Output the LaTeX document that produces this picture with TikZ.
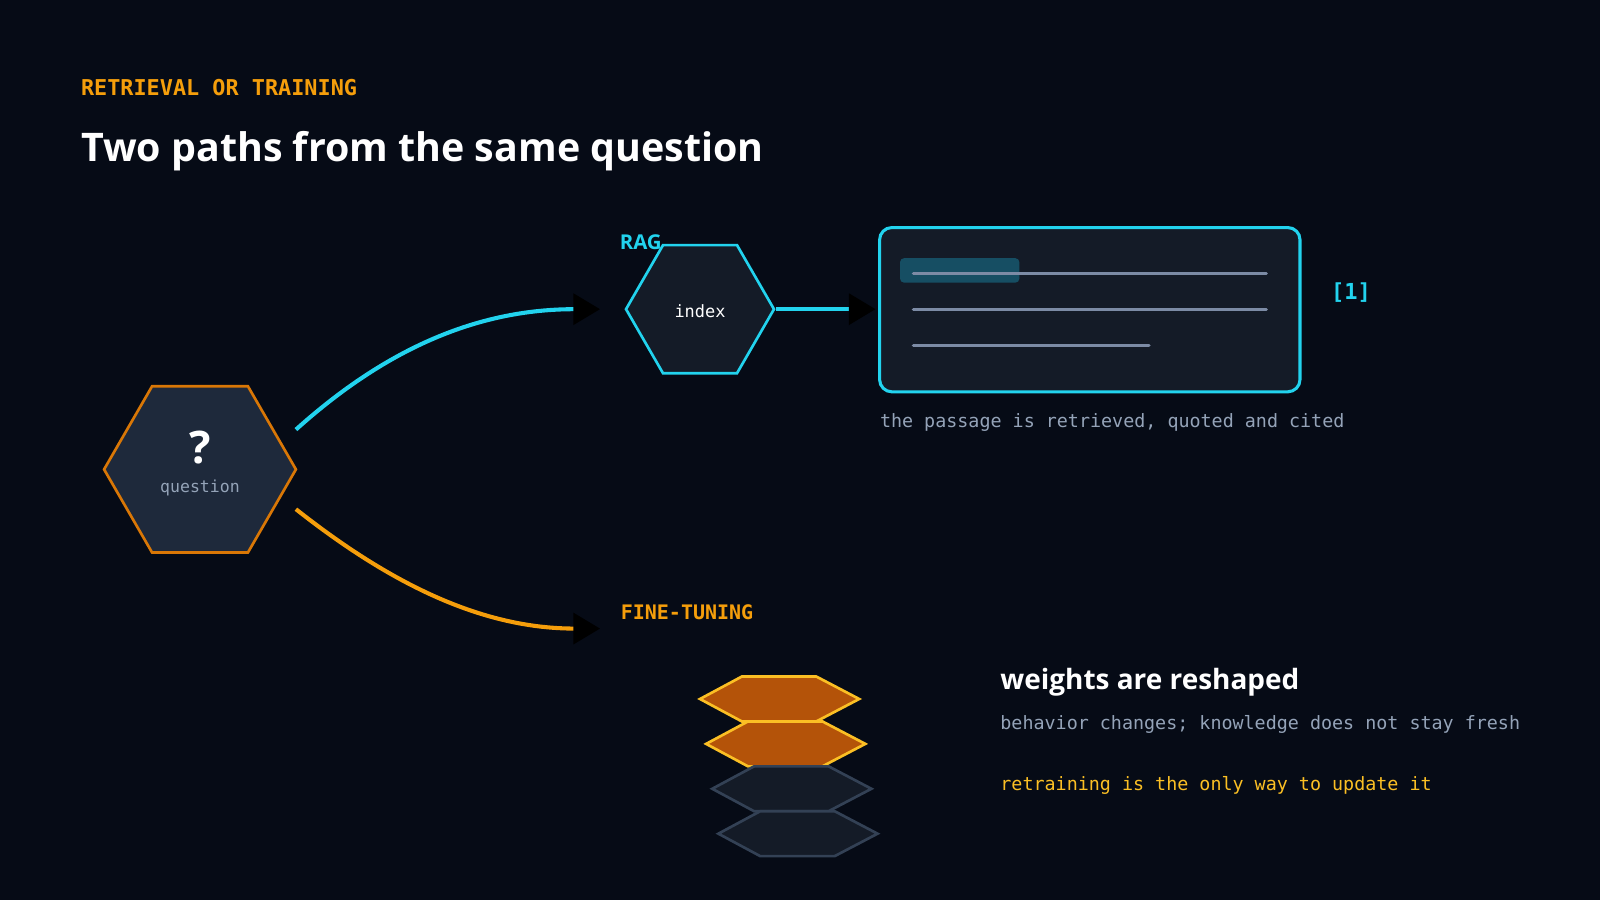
\documentclass[tikz,border=0pt]{standalone}
\usepackage{fontspec}
\setmainfont{Open Sans}
\newfontfamily\monof{DejaVu Sans Mono}
\usetikzlibrary{arrows.meta,shapes.geometric}
\definecolor{bg}{HTML}{060B16}
\definecolor{cyanc}{HTML}{22D3EE}
\definecolor{orangec}{HTML}{F59E0B}
\definecolor{darkor}{HTML}{D97706}
\definecolor{yellowc}{HTML}{FBBF24}
\definecolor{grayt}{HTML}{94A3B8}
\definecolor{linec}{HTML}{7C8BA5}
\definecolor{panel}{HTML}{141B27}
\definecolor{qfill}{HTML}{1E293B}
\definecolor{burnt}{HTML}{B45309}
\definecolor{slatec}{HTML}{334155}
\definecolor{hl}{HTML}{164E63}
\begin{document}
\begin{tikzpicture}[x=0.5pt,y=-0.5pt,
  hex/.style={regular polygon,regular polygon sides=6,inner sep=0pt,line width=1.3pt},
  lbl/.style={inner sep=0pt,anchor=base west},
  mono/.style={font=\monof\fontsize{9pt}{11pt}\selectfont},
  tip/.style={-{Triangle[length=13pt,width=15pt,color=black]}},
  conn/.style={line width=2pt,tip},
  layer/.style={line width=1.3pt}]
\fill[bg] (0,0) rectangle (1568,882);
\useasboundingbox (0,0) rectangle (1568,882);
\node[lbl,text=orangec,font=\monof\bfseries\fontsize{10.7pt}{12pt}\selectfont] (kicker) at (79,94) {RETRIEVAL OR TRAINING};
\node[lbl,text=white,font=\bfseries\fontsize{19.3pt}{22pt}\selectfont] (title) at (79,158) {Two paths from the same question};
% question
\node[hex,draw=darkor,fill=qfill,minimum size=94pt] (q) at (196,460) {};
\node[text=white,font=\bfseries\fontsize{22pt}{24pt}\selectfont,inner sep=0pt] (qm) at (196,439) {?};
\node[text=grayt,font=\monof\fontsize{8.1pt}{10pt}\selectfont,inner sep=0pt] (ql) at (196,478) {question};
\coordinate (qa) at (290,421);
\coordinate (qb) at (290,499);
% index
\node[hex,draw=cyanc,fill=panel,minimum size=72.5pt] (ix) at (686,303) {};
\node[text=white,font=\monof\fontsize{8.3pt}{10pt}\selectfont,inner sep=0pt] (ixl) at (686,305) {index};
\node[lbl,text=cyanc,font=\bfseries\fontsize{10pt}{12pt}\selectfont] (rag) at (607,245) {RAG};
\coordinate (ixin) at (588,303);
% card
\draw[cyanc,fill=panel,line width=1.5pt,rounded corners=6pt] (862,223) rectangle (1274,384);
\coordinate (card) at (858,303);
\fill[hl,rounded corners=2pt] (882,253) rectangle (999,277);
\draw[linec,line width=1.5pt,line cap=round] (895,268) -- (1241,268);
\draw[linec,line width=1.5pt,line cap=round] (895,303) -- (1241,303);
\draw[linec,line width=1.5pt,line cap=round] (895,339) -- (1126,339);
\node[text=cyanc,font=\monof\bfseries\fontsize{10.8pt}{12pt}\selectfont,inner sep=0pt] (cite) at (1324,287) {[1]};
\node[lbl,mono,text=grayt] (cap) at (862,419) {the passage is retrieved, quoted and cited};
% fine-tuning
\node[lbl,text=orangec,font=\monof\bfseries\fontsize{9.8pt}{12pt}\selectfont] (ft) at (608,607) {FINE-TUNING};
\coordinate (ftin) at (588,616);
\foreach \i/\f/\d in {0/burnt/yellowc,1/burnt/yellowc,2/panel/slatec,3/panel/slatec}{
  \draw[layer,fill=\f,draw=\d,shift={(6*\i,44*\i)}] (686,685) -- (727,663) -- (800,663) -- (842,685) -- (800,707) -- (727,707) -- cycle;
}
\node[lbl,text=white,font=\bfseries\fontsize{13.7pt}{16pt}\selectfont] (w) at (980,676) {weights are reshaped};
\node[lbl,mono,text=grayt] (w2) at (980,715) {behavior changes; knowledge does not stay fresh};
\node[lbl,mono,text=yellowc] (w3) at (980,775) {retraining is the only way to update it};
% connectors
\draw[conn,cyanc] (qa) .. controls (380,340) and (470,303) .. (ixin);
\draw[conn,orangec] (qb) .. controls (380,570) and (470,616) .. (ftin);
\draw[conn,cyanc] (ix.east) -- (card);
\end{tikzpicture}
\end{document}
